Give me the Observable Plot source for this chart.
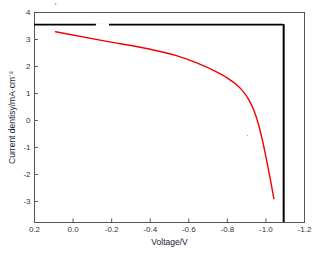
<!DOCTYPE html>
<html><head><meta charset="utf-8">
<script src="https://cdn.jsdelivr.net/npm/d3@7"></script>
<script src="https://cdn.jsdelivr.net/npm/@observablehq/plot@0.6"></script>
<style>body{margin:0;background:#fff}</style>
</head><body><div id="chart"></div>
<script>
const voltage = [0.091, -0.168, -0.427, -0.531, -0.635, -0.739, -0.790, -0.842, -0.877, -0.911, -0.937, -0.963, -0.984, -1.007, -1.024, -1.041];
const current = [3.285, 2.94, 2.593, 2.411, 2.151, 1.818, 1.619, 1.359, 1.114, 0.774, 0.384, -0.185, -0.804, -1.604, -2.222, -2.900];
const xTicks = [0.2, 0.0, -0.2, -0.4, -0.6, -0.8, -1.0, -1.2];
const yTicks = [4, 3, 2, 1, 0, -1, -2, -3];
const idealJ = 3.55;
const idealV = -1.092;
const xDomain = [0.2, -1.2];
const yDomain = [-3.78, 4];

const data = voltage.map((v, i) => ({v, j: current[i]}));
const ymin = yDomain[0];

const chart = Plot.plot({
  width: 321, height: 259,
  marginLeft: 34, marginRight: 17, marginTop: 12, marginBottom: 37,
  style: {fontFamily: "Liberation Sans, Arial, sans-serif", fontSize: "8px", color: "#333", background: "#fff"},
  x: {domain: xDomain},
  y: {domain: yDomain},
  marks: [
    Plot.frame({stroke: "#555", strokeWidth: 1}),
    Plot.axisX({ticks: xTicks, tickFormat: d => d.toFixed(1), tickSize: 0, tickPadding: 4, fontSize: 8, fill: "#333",
      label: "Voltage/V", labelAnchor: "center", labelArrow: "none", labelOffset: 22}),
    Plot.axisY({ticks: yTicks, tickFormat: d => String(d), tickSize: 0, tickPadding: 4, fontSize: 8, fill: "#333",
      label: "Current dentisy/mA·cm⁻²", labelAnchor: "center", labelArrow: "none", labelOffset: 26}),
    Plot.ruleX(xTicks.slice(1, -1), {y1: ymin, y2: ymin + 0.13, stroke: "#555"}),
    Plot.ruleY(yTicks.slice(1), {x1: xDomain[0], x2: xDomain[0] - 0.02, stroke: "#555"}),
    Plot.ruleY([idealJ], {x1: xDomain[0], x2: idealV, stroke: "#000", strokeWidth: 1.8}),
    Plot.ruleX([idealV], {y1: idealJ, y2: ymin, stroke: "#000", strokeWidth: 2}),
    Plot.ruleY([idealJ], {x1: -0.121, x2: -0.189, stroke: "#fff", strokeWidth: 3}),
    Plot.line(data, {x: "v", y: "j", stroke: "#ee0000", strokeWidth: 1.4, curve: "monotone-x"}),
    Plot.dot([{v: 0.09, j: 4.32}], {x: "v", y: "j", r: 0.6, fill: "#d00", stroke: "none", clip: false}),
    Plot.dot([{v: -0.904, j: -0.56}], {x: "v", y: "j", r: 0.6, fill: "#f6a", stroke: "none"})
  ]
});
chart.querySelectorAll("[aria-label='x-axis label'] text, [aria-label='y-axis label'] text").forEach(t => {
  t.setAttribute("font-size", "8.5"); t.setAttribute("fill", "#1a1a2e");
});
document.getElementById("chart").appendChild(chart);
</script></body></html>
